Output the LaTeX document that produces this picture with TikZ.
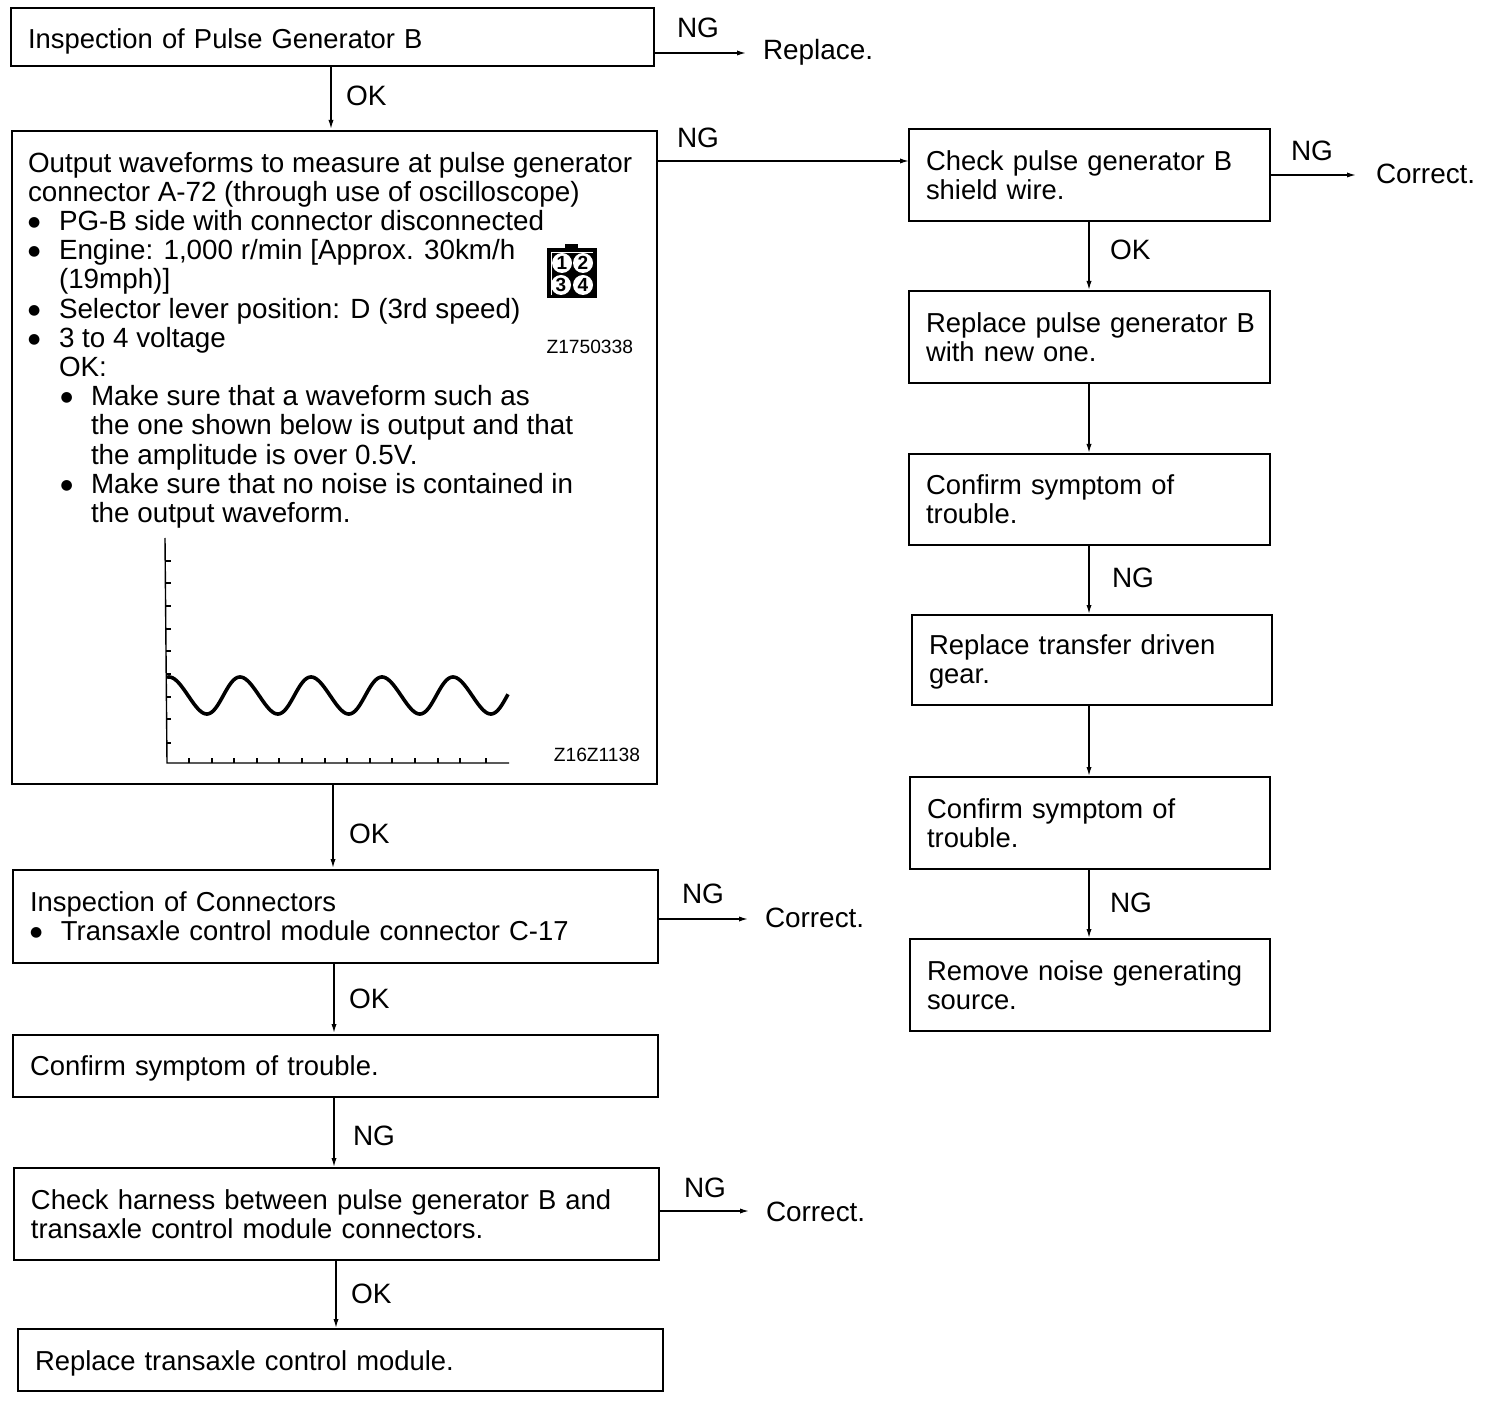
\documentclass[tikz,border=0pt]{standalone}
\usepackage{fontspec}
\setmainfont{Liberation Sans}
\newfontfamily\symfont{DejaVu Sans}
\usetikzlibrary{arrows.meta}
\newcommand{\flowbox}[6]{%
  \pgfmathsetmacro\bh{(#5-#3)*0.5}%
  \pgfmathsetmacro\tw{(#4-#2)*0.5-17}%
  \node[flowbox,text width=\tw pt,minimum height=\bh pt] (#1) at ({(#2+#4)/2},{(#3+#5)/2}) {#6};}
\newcommand{\bigbul}{\smash{\raisebox{2pt}{\symfont\fontsize{7}{14.6}\selectfont ●}}}
\newcommand{\bul}{\makebox[15.5pt][l]{\bigbul}}
\newcommand{\ind}{\hspace*{15.5pt}}
\newcommand{\subbul}{\hspace*{16.3pt}\makebox[15.2pt][l]{\bigbul}}
\newcommand{\subind}{\hspace*{31.5pt}}
\begin{document}
\begin{tikzpicture}[x=0.5pt,y=-0.5pt,
  flowbox/.style={draw=black,line width=0.8pt,inner xsep=8.5pt,inner ysep=0pt,outer sep=0pt,align=left,anchor=center,
    font=\fontsize{13.7}{14.6}\selectfont},
  lbl/.style={inner sep=0pt,outer sep=0pt,anchor=west,font=\fontsize{14}{16}\selectfont},
  res/.style={inner sep=0pt,outer sep=0pt,anchor=west,font=\fontsize{13.95}{16}\selectfont},
  code/.style={inner sep=0pt,outer sep=0pt,anchor=east,font=\fontsize{9.6}{11}\selectfont},
  conn/.style={line width=0.7pt,-{Latex[length=4.5pt,width=2.6pt]}},
  axis/.style={line width=0.7pt},
  pin/.style={circle,fill=white,inner sep=0pt,minimum size=10pt,font=\fontsize{9.5}{10}\bfseries\selectfont}]
\useasboundingbox (0,0) rectangle (1504,1422);
% left column
\flowbox{b1}{11}{8}{654}{66}{\rule{0pt}{14pt}Inspection of Pulse Generator B}
\flowbox{b2}{12}{131}{657}{784}{}
\flowbox{b3}{13}{870}{658}{963}{Inspection of Connectors\\\bul Transaxle control module connector C-17}
\flowbox{b4}{13}{1035}{658}{1097}{\rule{0pt}{12pt}Confirm symptom of trouble.}
\flowbox{b5}{14}{1168}{659}{1260}{Check harness between pulse generator B and\\transaxle control module connectors.}
\flowbox{b6}{18}{1329}{663}{1391}{\rule{0pt}{13pt}Replace transaxle control module.}
% right column
\flowbox{r1}{909}{129}{1270}{221}{Check pulse generator B\\shield wire.}
\flowbox{r2}{909}{291}{1270}{383}{\mbox{Replace pulse generator B}\\with new one.}
\flowbox{r3}{909}{454}{1270}{545}{Confirm symptom of\\trouble.}
\flowbox{r4}{912}{615}{1272}{705}{\rule{0pt}{12pt}Replace transfer driven\\gear.}
\flowbox{r5}{910}{777}{1270}{869}{Confirm symptom of\\trouble.}
\flowbox{r6}{910}{939}{1270}{1031}{Remove noise generating\\source.}
% text of the large box
\node[inner sep=0pt,outer sep=0pt,anchor=north west,align=left,font=\fontsize{13.9}{14.6}\selectfont] (b2t) at (28,152) {%
Output waveforms to measure at pulse generator\\
connector A-72 (through use of oscilloscope)\\
\bul PG-B side with connector disconnected\\
\bul Engine: 1,000 r/min [Approx. 30km/h\\
\ind(19mph)]\\
\bul Selector lever position: D (3rd speed)\\
\bul 3 to 4 voltage\\
\ind OK:\\
\subbul Make sure that a waveform such as\\
\subind the one shown below is output and that\\
\subind the amplitude is over 0.5V.\\
\subbul Make sure that no noise is contained in\\
\subind the output waveform.};
% connector symbol
\fill[black] (565,244) rectangle (578,249);
\fill[black] (547,248) rectangle (597,298);
\draw[white,line width=0.5pt] (551,295) -- (551,253) -- (593,253);
\node[pin] (p1) at (562,263) {1};
\node[pin] (p2) at (583,263) {2};
\node[pin] (p3) at (561,285) {3};
\node[pin] (p4) at (583,285) {4};
\node[code] (c1) at (633,347) {Z1750338};
% waveform chart
\draw[axis] (165,538) -- (167,763) -- (509,763);
\foreach \ty in {561,583,606,629,651,674,697,719,743} \draw[axis] (166,\ty) -- (171,\ty);
\foreach \tx in {189,212,234,257,279,302,325,347,370,392,415,438,460,486} \draw[axis] (\tx,763) -- (\tx,758);
\draw[line width=1.8pt,line join=round,samples=300,domain=167:508,variable=\t]
  plot (\t,{695.5-18.5*cos(5.0704*(\t-240)+6*cos(5.0704*(\t-240))-6)});
\node[code] (c2) at (640,755) {Z16Z1138};
% vertical connectors
\coordinate (v1) at (331,129);
\coordinate (v2) at (333,868);
\coordinate (v3) at (334,1033);
\coordinate (v4) at (334,1167);
\coordinate (v5) at (336,1328);
\coordinate (w1) at (1089,290);
\coordinate (w2) at (1089,453);
\coordinate (w3) at (1089,614);
\coordinate (w4) at (1089,776);
\coordinate (w5) at (1089,938);
\draw[conn] (b1.south -| v1) -- (v1);
\draw[conn] (b2.south -| v2) -- (v2);
\draw[conn] (b3.south -| v3) -- (v3);
\draw[conn] (b4.south -| v4) -- (v4);
\draw[conn] (b5.south -| v5) -- (v5);
\draw[conn] (r1.south -| w1) -- (w1);
\draw[conn] (r2.south -| w2) -- (w2);
\draw[conn] (r3.south -| w3) -- (w3);
\draw[conn] (r4.south -| w4) -- (w4);
\draw[conn] (r5.south -| w5) -- (w5);
% horizontal connectors
\coordinate (h1) at (746,53);
\coordinate (h2) at (908,161);
\coordinate (h3) at (1356,175);
\coordinate (h4) at (748,919);
\coordinate (h5) at (749,1211);
\draw[conn] (b1.east |- h1) -- (h1);
\draw[conn] (b2.east |- h2) -- (r1.west |- h2);
\draw[conn] (r1.east |- h3) -- (h3);
\draw[conn] (b3.east |- h4) -- (h4);
\draw[conn] (b5.east |- h5) -- (h5);
% results
\node[res] (t1) at (763,52) {Replace.};
\node[res] (t2) at (1376,174) {Correct.};
\node[res] (t3) at (765,918) {Correct.};
\node[res] (t4) at (766,1212) {Correct.};
% connector labels
\node[lbl] (n1) at (677,28) {NG};
\node[lbl] (n2) at (677,138) {NG};
\node[lbl] (n3) at (1291,151) {NG};
\node[lbl] (n4) at (682,894) {NG};
\node[lbl] (n5) at (684,1188) {NG};
\node[lbl] (n6) at (353,1136) {NG};
\node[lbl] (n7) at (1112,578) {NG};
\node[lbl] (n8) at (1110,903) {NG};
\node[lbl] (k1) at (346,96) {OK};
\node[lbl] (k2) at (349,834) {OK};
\node[lbl] (k3) at (349,999) {OK};
\node[lbl] (k4) at (351,1294) {OK};
\node[lbl] (k5) at (1110,250) {OK};
\end{tikzpicture}
\end{document}
